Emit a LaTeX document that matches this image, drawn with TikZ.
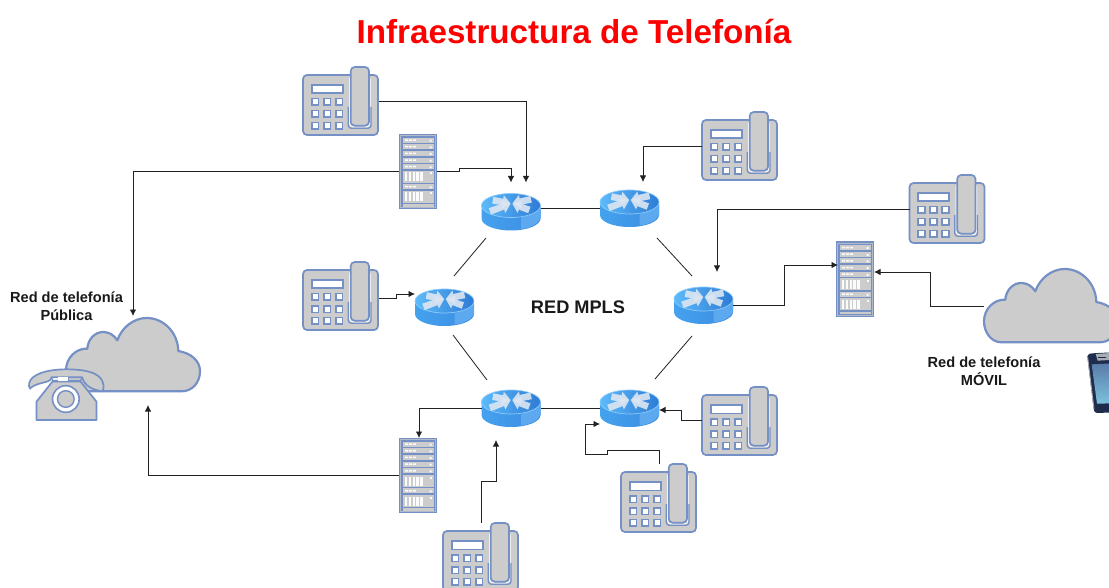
\documentclass[tikz,border=0pt]{standalone}
\usepackage{fontspec}
\setmainfont{Liberation Sans}
\usetikzlibrary{arrows.meta}
\definecolor{gfill}{HTML}{CCCCCC}
\definecolor{bstroke}{HTML}{7590C4}
\definecolor{lnk}{HTML}{222222}
\tikzset{
  ico/.style={draw=bstroke,fill=gfill,line width=1.7pt,line join=round},
  wht/.style={draw=bstroke,fill=white,line width=1.6pt},
  box/.style={inner sep=0pt,outer sep=0pt,minimum width=#1},
  phonebox/.style={box=76pt,minimum height=68pt},
  serverbox/.style={box=38pt,minimum height=75pt},
  routerbox/.style={box=59pt,minimum height=37pt},
  cloudbox/.style={box=134pt,minimum height=74pt},
  lnkline/.style={draw=lnk,line width=.8pt},
  arr/.style={lnkline,-{Latex[length=6.5pt,width=6.5pt]}},
  ttl/.style={font=\bfseries\fontsize{33.2}{36}\selectfont,text=red},
  lbl/.style={font=\bfseries\fontsize{14.6}{18}\selectfont,align=center,text=black!90},
  mpls/.style={font=\bfseries\fontsize{18.2}{22}\selectfont,text=black!90},
  phonepic/.pic={
    \begin{scope}[shift={(-38,-34)}]
      \draw[ico] (0,8) [rounded corners=4pt] rectangle (75,68);
      \draw[draw=white,line width=1pt,fill=gfill,rounded corners=4pt] (46.5,8) rectangle (67,60);
      \draw[bstroke,line width=1.3pt,rounded corners=3pt,fill=none] (45.3,40) -- (45.3,61.3) -- (68,61.3) -- (68,40);
      \draw[ico,rounded corners=4pt] (47.7,0) rectangle (66,58.7);
      \draw[wht] (8.7,18) rectangle (39.7,26.3);
      \foreach \px in {12,24,36}\foreach \py in {35,47,58.7}{
        \draw[wht] (\px-3.3,\py-3.3) rectangle (\px+3.3,\py+3.3);}
    \end{scope}},
  serverpic/.pic={
    \begin{scope}[shift={(-19,-37.5)}]
      \fill[fill=bstroke] (0,0) rectangle (38,75);
      \draw[draw=gfill!70!bstroke,line width=.6pt] (1.5,1.5) rectangle (36.5,73.5);
      \foreach \sy in {3.7,10.3,17,23.7,30.3,50.3}{
        \fill[gfill] (3.7,\sy) rectangle (35.3,\sy+5);
        \fill[white!92!gfill] (6,\sy+1.7) rectangle (9,\sy+3.2) (10,\sy+1.7) rectangle (13,\sy+3.2) (14,\sy+1.7) rectangle (17,\sy+3.2)
          (30.5,\sy+2) rectangle (32.5,\sy+4);}
      \foreach \sy in {37,57}{
        \fill[gfill] (3.7,\sy) rectangle (35.3,\sy+11.7);
        \foreach \bx in {6,9.8,13.6,17.4,21.2}{\fill[white!92!gfill] (\bx,\sy+1.5) rectangle (\bx+2.3,\sy+10.5);}
        \fill[white!92!gfill] (30.5,\sy+1.5) rectangle (32.5,\sy+3.5);}
      \fill[gfill] (3.7,70.3) rectangle (35.3,72.7);
    \end{scope}},
  routerpic/.pic={
    \path[left color=rl,middle color=rm,right color=rr]
      (-29.5,-6.5) -- (-29.5,6.5) arc[start angle=180,end angle=360,x radius=29.5pt,y radius=12pt] -- (29.5,-6.5) -- cycle;
    \fill[rm!55!rr] (10,6) -- (10,17) .. controls (18,16) and (26,13) .. (29.5,6.5) -- (29.5,-4) -- cycle;
    \path[left color=rt1,right color=rt2,draw=rim,line width=.7pt] (0,-6.5) ellipse[x radius=29.5pt,y radius=12pt];
    \foreach \ang/\rr in {170/19,200/23,12/20,340/19}{
      \begin{scope}[shift={(0.5,-8.5)},rotate=\ang]
        \fill[arrw,fill opacity=.9] (1,0) -- (9,6.8) -- (9,3.2) -- (\rr,3.4) -- (\rr,-3.4) -- (9,-3.2) -- (9,-6.8) -- cycle;
      \end{scope}}},
  cloudpic/.pic={
    \begin{scope}[shift={(-67,-37)}]
      \draw[draw=bstroke,fill=gfill,line width=2.2pt,line join=round]
        (17.3,73.3) .. controls (7,73.3) and (0,63) .. (0,52.3)
        .. controls (0,40) and (10,30) .. (21.3,30.7)
        .. controls (22,21) and (29,14) .. (37.3,14)
        .. controls (43,14) and (48,17) .. (51.3,22.3)
        .. controls (56,9) and (68,0) .. (80.7,0)
        .. controls (98,0) and (112,15) .. (112.3,33)
        .. controls (125,35) and (134,43) .. (134,53)
        .. controls (134,65) and (126,73.3) .. (115.7,73.3) -- cycle;
    \end{scope}},
  oldphonepic/.pic={
    \begin{scope}[scale=.3333,shift={(-125,-105)}]
      \draw[ico] (35,180) -- (215,180) -- (215,125) -- (165,62) -- (85,62) -- (35,125) -- cycle;
      \draw[ico] (13,70) .. controls (18,42) and (70,27) .. (130,28)
        .. controls (190,29) and (232,40) .. (236,76)
        .. controls (237,86) and (234,92) .. (232,94)
        .. controls (205,90) and (178,78) .. (172,52)
        -- (80,52) .. controls (82,64) and (60,66) .. (40,72)
        .. controls (28,76) and (18,82) .. (16,86)
        .. controls (12,82) and (12,76) .. (13,70) -- cycle;
      \fill[white] (100,52) rectangle (130,65);
      \draw[bstroke,line width=1.2pt] (80,52) -- (85,65) -- (165,65) -- (172,52);
      \path[fill=white,draw=bstroke,line width=1.6pt] (123,117) circle[radius=40pt];
      \path[fill=gfill,draw=bstroke,line width=1.4pt] (123,117) circle[radius=25pt];
    \end{scope}},
  mobilepic/.pic={
    \begin{scope}[scale=.3333,shift={(-88.5,-114)}]
      \fill[phonedark] (55,34) .. controls (57,26) and (63,25) .. (70,25) -- (170,20) -- (185,200) -- (85,204) .. controls (78,204) and (75,200) .. (74,192) -- cycle;
      \fill[phonesilver] (80,27) -- (170,21) -- (172,42) -- (86,47) -- cycle;
      \draw[phonesilver,line width=.8pt] (56,36) -- (75,192);
      \fill[phonedark] (88,35) rectangle (112,40);
      \path[top color=phonescr1,bottom color=phonescr2] (68,58) -- (175,53) -- (182,174) -- (84,176) -- cycle;
    \end{scope}},
}
\definecolor{rl}{HTML}{45A2EE}
\definecolor{rm}{HTML}{78C0FB}
\definecolor{rr}{HTML}{3C8CE2}
\definecolor{rt1}{HTML}{5CBAFA}
\definecolor{rt2}{HTML}{2E7BD5}
\definecolor{rim}{HTML}{8CCBFB}
\definecolor{arrw}{HTML}{DDE6F2}
\definecolor{phonedark}{HTML}{1F2D4D}
\definecolor{phonesilver}{HTML}{A9ADB3}
\definecolor{phonescr1}{HTML}{5A7AA8}
\definecolor{phonescr2}{HTML}{7CC2DE}
\begin{document}
\begin{tikzpicture}[x=1pt,y=-1pt]
\clip (0,0) rectangle (1109,588);
\fill[white] (0,0) rectangle (1109,588);
% invisible frames carrying names
\node[cloudbox] (cloudL) at (133,355) {};
\node[cloudbox] (cloudR) at (1051,306) {};
\node[box=76pt,minimum height=53pt] (oldphone) at (66.5,395) {};
\node[box=21pt,minimum height=60pt] (mobile) at (1098.5,383) {};
\node[phonebox] (pTop) at (341,101) {};
\node[phonebox] (pTopR) at (740,146) {};
\node[phonebox] (pR) at (947.5,209) {};
\node[phonebox] (pL) at (341,296) {};
\node[phonebox] (pLowR) at (740,421) {};
\node[phonebox] (pBotR) at (659,498) {};
\node[phonebox] (pBot) at (481,557) {};
\node[serverbox] (sTop) at (418,171.5) {};
\node[serverbox] (sBot) at (418,475.5) {};
\node[serverbox] (sR) at (855,279) {};
\node[routerbox] (r1) at (511,212) {};
\node[routerbox] (r2) at (629.5,208.5) {};
\node[routerbox] (r3) at (444.5,307.5) {};
\node[routerbox] (r4) at (511,408.5) {};
\node[routerbox] (r5) at (629.5,408.5) {};
\node[routerbox] (r6) at (703.5,305.5) {};
% icons
\pic at (cloudL) {cloudpic};
\pic at (cloudR) {cloudpic};
\pic at (oldphone) {oldphonepic};
\pic at (mobile) {mobilepic};
\foreach \n in {pTop,pTopR,pR,pL,pLowR,pBotR,pBot}{\pic at (\n) {phonepic};}
\foreach \n in {sTop,sBot,sR}{\pic at (\n) {serverpic};}
\foreach \n in {r1,r2,r3,r4,r5,r6}{\pic at (\n) {routerpic};}
% ring links
\draw[lnkline] ([shift={(0,-3.5)}]r1.east) -- (r2.west);
\draw[lnkline] (r4.east) -- (r5.west);
\draw[lnkline] ([shift={(-25,26)}]r1.center) -- ([shift={(9.5,-31.5)}]r3.center);
\draw[lnkline] ([shift={(27.5,29.5)}]r2.center) -- ([shift={(-11.5,-29.5)}]r6.center);
\draw[lnkline] ([shift={(-11.5,30.5)}]r6.center) -- ([shift={(25.5,-29.5)}]r5.center);
\draw[lnkline] ([shift={(8.5,27.5)}]r3.center) -- ([shift={(-24,-28.5)}]r4.center);
% arrows
\draw[arr] (pTop.east) -- (526,101) -- ([shift={(15,-11)}]r1.north);
\draw[arr] (sTop.east) -- (459,171.5) -- (459,168) -- (511,168) -- ([shift={(0,-11)}]r1.north);
\draw[arr] (sTop.west) -- (133,171.5) -- ([shift={(0,-2)}]cloudL.north);
\draw[arr] (pTopR.west) -- (643,146) -- ([shift={(13.5,-8)}]r2.north);
\draw[arr] (pR.west) -- (717,209) -- ([shift={(13.5,-15)}]r6.north);
\draw[arr] (r6.east) -- (784,305.5) -- (784,265) -- ([shift={(-17,-14)}]sR.center);
\draw[arr] (cloudR.west) -- (930,306) -- (930,272) -- ([shift={(0,-7)}]sR.east);
\draw[arr] ([shift={(0,2)}]pL.east) -- (396,298) -- (396,294) -- ([shift={(0,-13.5)}]r3.west);
\draw[arr] (r4.west) -- (419,408.5) -- ([shift={(1,0)}]sBot.north);
\draw[arr] (sBot.west) -- (148,475.5) -- ([shift={(15,13)}]cloudL.south);
\draw[arr] (pBot.north) -- (481,481) -- (496,481) -- ([shift={(-15,13)}]r4.south);
\draw[arr] (pBotR.north) -- (659,450) -- (607,450) -- (607,454) -- (585,454) -- (585,424) -- ([shift={(0,15.5)}]r5.west);
\draw[arr] ([shift={(0,-1)}]pLowR.west) -- (681,420) -- (681,410) -- ([shift={(0,1.5)}]r5.east);
% text
\node[ttl] (title) at (574,31) {Infraestructura de Telefonía};
\node[mpls] (mplsl) at (578,307) {RED MPLS};
\node[lbl] (lblP) at (66.5,306.5) {Red de telefonía\\Pública};
\node[lbl] (lblM) at (984,371) {Red de telefonía\\MÓVIL};
\end{tikzpicture}
\end{document}
